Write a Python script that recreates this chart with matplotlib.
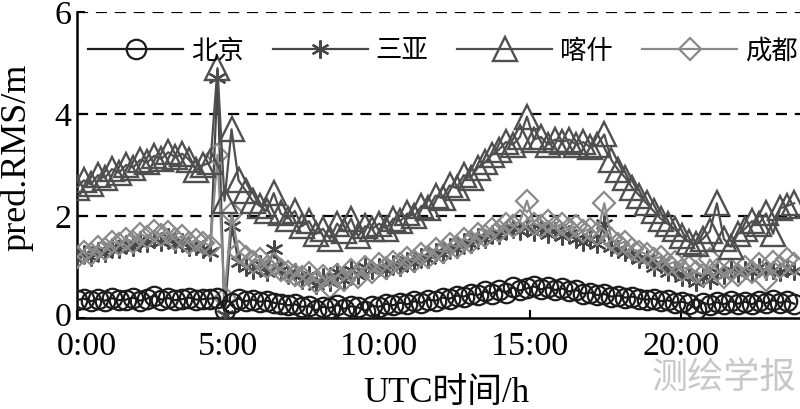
import numpy as np
import matplotlib
matplotlib.use('Agg')
import matplotlib.pyplot as plt
import matplotlib.transforms as mtransforms

plt.rcParams['font.family'] = ['Liberation Serif', 'Noto Sans CJK SC', 'DejaVu Sans']

beijing = [0.35, 0.38, 0.33, 0.37, 0.34, 0.39, 0.35, 0.36, 0.40, 0.34, 0.38, 0.44, 0.36, 0.39, 0.35, 0.37, 0.40, 0.36, 0.37, 0.38,
           0.40, 0.15, 0.30,
           0.38, 0.33, 0.36, 0.32, 0.34, 0.30, 0.28,
           0.25, 0.27, 0.22, 0.24, 0.15, 0.22, 0.20, 0.26, 0.18, 0.23, 0.21, 0.14, 0.24,
           0.22, 0.28, 0.25, 0.30, 0.27, 0.33, 0.30, 0.36, 0.34, 0.40, 0.38, 0.44, 0.42,
           0.47, 0.45, 0.52, 0.48, 0.55, 0.50, 0.60, 0.54, 0.58, 0.62, 0.56, 0.60, 0.55,
           0.58, 0.52, 0.55, 0.48, 0.50, 0.45, 0.47, 0.42, 0.44, 0.40, 0.42, 0.38, 0.36,
           0.38, 0.33, 0.35, 0.30, 0.32, 0.28, 0.18, 0.30, 0.26, 0.31, 0.27, 0.33, 0.28,
           0.32, 0.27, 0.34, 0.29, 0.35, 0.30, 0.33, 0.28]

sanya = [1.15, 1.25, 1.20, 1.32, 1.28, 1.40, 1.35, 1.45, 1.40, 1.52, 1.48, 1.55, 1.50, 1.58, 1.45, 1.50, 1.40, 1.42, 1.36, 1.30,
         4.70, 0.05, 1.80,
         1.10, 1.00, 0.95, 1.05, 0.90, 1.35, 0.95,
         0.85, 0.90, 0.75, 0.85, 0.65, 0.80, 0.70, 0.90, 0.75, 0.95, 0.85, 1.00, 0.95,
         1.00, 0.95, 1.05, 1.00, 1.12, 1.08, 1.20, 1.15, 1.30, 1.25, 1.40, 1.35, 1.50,
         1.45, 1.58, 1.55, 1.65, 1.62, 1.72, 1.75, 1.70, 1.78, 1.68, 1.75, 1.65, 1.70,
         1.60, 1.65, 1.55, 1.50, 1.55, 1.45, 1.85, 1.40, 1.35, 1.30, 1.25, 1.15, 1.15,
         1.00, 1.05, 0.90, 0.95, 0.80, 0.85, 0.70, 0.80, 0.75, 0.90, 0.85, 0.95, 0.88,
         0.95, 0.90, 1.00, 0.92, 0.95, 0.90, 0.98, 0.92]

kashi = [2.55, 2.70, 2.62, 2.80, 2.75, 2.92, 2.85, 3.00, 2.95, 3.10, 3.05, 3.18, 3.12, 3.25, 3.15, 3.22, 3.10, 2.90, 3.00, 3.05,
         4.90, 2.30, 3.70,
         2.70, 2.50, 2.30, 2.20, 2.10, 2.45, 2.05,
         1.95, 2.10, 1.80, 1.90, 1.65, 1.75, 1.55, 1.85, 1.70, 1.95, 1.60, 1.80, 1.75,
         1.85, 1.75, 1.95, 1.90, 2.05, 2.00, 2.20, 2.15, 2.40, 2.35, 2.60, 2.55, 2.80,
         2.75, 2.95, 3.05, 3.20, 3.30, 3.45, 3.40, 3.55, 3.95, 3.50, 3.55, 3.40, 3.50,
         3.45, 3.50, 3.40, 3.45, 3.35, 3.40, 3.60, 3.10, 2.90, 2.75, 2.55, 2.40, 2.25,
         2.10, 1.95, 1.85, 1.75, 1.60, 1.50, 1.45, 1.55, 1.70, 2.25, 1.55, 1.40, 1.65,
         1.75, 1.90, 1.85, 2.05, 1.65, 2.15, 2.20, 2.25]

chengdu = [1.20, 1.30, 1.25, 1.40, 1.35, 1.50, 1.45, 1.55, 1.50, 1.65, 1.58, 1.70, 1.62, 1.68, 1.55, 1.60, 1.48, 1.52, 1.47, 1.42,
           3.20, 0.40, 2.05,
           1.30, 1.20, 1.10, 1.15, 1.00, 1.05, 0.95,
           0.90, 0.85, 0.80, 0.88, 0.70, 0.82, 0.60, 0.85, 0.75, 0.95, 0.80, 1.00, 0.90,
           1.05, 0.98, 1.10, 1.05, 1.18, 1.12, 1.25, 1.20, 1.35, 1.30, 1.45, 1.40, 1.55,
           1.50, 1.65, 1.60, 1.75, 1.70, 1.85, 1.80, 1.90, 2.30, 1.85, 1.80, 1.90, 1.78,
           1.85, 1.75, 1.80, 1.70, 1.75, 1.65, 2.25, 1.55, 1.45, 1.50, 1.35, 1.30, 1.25,
           1.15, 1.20, 1.05, 1.10, 0.95, 1.00, 0.90, 0.85, 1.15, 0.95, 0.80, 0.95, 0.85,
           1.00, 0.90, 1.05, 0.75, 1.10, 1.00, 1.15, 1.05]

# evenly spaced samples over the day
hours = np.linspace(0, 23.75, len(beijing))

xticks = [0, 5, 10, 15, 20]
xticklabels = ['0:00', '5:00', '10:00', '15:00', '20:00']
yticks = [0, 2, 4, 6]

fig = plt.figure(figsize=(8, 4.09), dpi=100)
ax = fig.add_axes([0.096, 0.2225, 0.91, 0.748])

ax.plot(hours, beijing, color='#1c1c1c', lw=1.6, marker='o', ms=14, mfc='none', mew=1.6,
        label='北京', zorder=5)
ax.plot(hours, sanya, color='#474747', lw=1.6, marker=(6, 2, 0), ms=13, mew=1.6,
        label='三亚', zorder=3)
ax.plot(hours, kashi, color='#4f4f4f', lw=1.6, marker='^', ms=17, mfc='none', mew=1.7,
        label='喀什', zorder=4)
ax.plot(hours, chengdu, color='#8a8a8a', lw=1.6, marker='D', ms=11.5, mfc='none', mew=1.6,
        label='成都', zorder=3.5)

for y in [2, 4, 6]:
    ax.axhline(y, color='black', lw=1.6, ls=(0, (5, 3.5)), zorder=1)

ax.set_xlim(0, 24.1)
ax.set_ylim(0, 6)
ax.set_xticks(xticks)
ax.set_xticklabels(xticklabels)
ax.set_yticks(yticks)
ax.tick_params(direction='in', labelsize=24.5, length=6, width=1.5)
ax.tick_params(axis='x', pad=10)
ax.tick_params(axis='y', pad=4)
for s in ['top', 'right']:
    ax.spines[s].set_visible(False)
for s in ['left', 'bottom']:
    ax.spines[s].set_linewidth(1.8)

# first x label sits a little right of the spine, the y "0" a touch higher
first = ax.get_xticklabels()[0]
first.set_transform(first.get_transform() + mtransforms.ScaledTranslation(0.10, 0, fig.dpi_scale_trans))
zero = ax.get_yticklabels()[0]
zero.set_transform(zero.get_transform() + mtransforms.ScaledTranslation(0, 0.04, fig.dpi_scale_trans))

ax.set_xlabel('UTC时间/h', fontsize=25)
ax.xaxis.set_label_coords(0.507, -0.248)
ax.xaxis.label.set_va('center')
ax.set_ylabel('pred.RMS/m', fontsize=26)
ax.yaxis.set_label_coords(-0.083, 0.525)
ax.yaxis.label.set_va('center')

ax.legend(loc='center', bbox_to_anchor=(0.503, 0.872), ncol=4, frameon=False,
          fontsize=19, handlelength=3.6, handletextpad=0.3, columnspacing=1.1)

fig.text(0.995, 0.076, '测绘学报', fontsize=26, color='#c8c8c8', ha='right', va='center',
         family=['Noto Sans CJK SC'])

fig.savefig('out.png', dpi=100)
